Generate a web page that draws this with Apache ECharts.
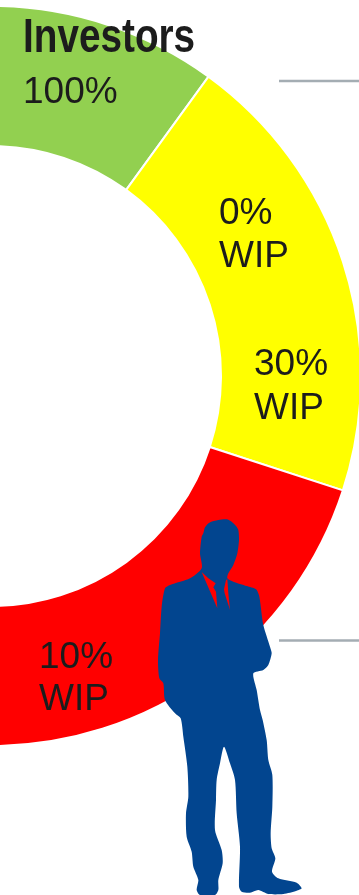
<!DOCTYPE html>
<html>
<head>
<meta charset="utf-8">
<style>html,body{margin:0;padding:0;background:#fff}#c{width:359px;height:895px}</style>
<script src="https://cdn.jsdelivr.net/npm/echarts@6/dist/echarts.min.js"></script>
</head>
<body>
<div id="c"></div>
<script>
// Ring segments, clockwise from the upper left
const categories = ['Investors', 'Operations', 'Delivery'];
const shares = [1, 1, 1];
const segmentColors = ['#92d050', '#ffff00', '#ff0000'];

// Captions printed on the ring: text, left edge, vertical middle
const captions = [
  ['100%', 23, 93],
  ['0%', 219, 214],
  ['WIP', 219, 257],
  ['30%', 254, 365],
  ['WIP', 254, 409],
  ['10%', 39, 658],
  ['WIP', 39, 700]
];
const title = 'Investors';

// Outline of the standing figure, in thirds of a pixel relative to the two anchors below
const upperAnchor = [150, 510];
const lowerAnchor = [150, 700];
const figureUpper = [[160,70],[165,52],[178,38],[205,30],[230,28],[245,35],[258,48],[265,60],[267,90],[262,130],[250,165],[235,190],
  [232,205],[250,215],[290,228],[318,238],[328,260],[340,345],[360,410],[365,430],[355,465],[340,480],[310,490],[320,540],[330,600]];
const figureLower = [[338,60],[350,120],[355,180],[367,225],[367,320],[362,400],[365,445],[376,475],[366,515],[385,535],
  [440,548],[455,565],[440,572],[400,582],[355,582],[325,570],[300,578],[275,575],[267,560],[270,440],[260,340],[255,240],
  [240,190],[222,140],[210,190],[200,240],[198,300],[195,390],[215,450],[218,490],[205,540],[205,570],[195,585],[150,585],
  [140,570],[145,540],[130,500],[125,455],[110,410],[108,340],[115,290],[112,200],[100,110],[92,55],[75,40],[45,0]];
const figureBack = [[40,520],[28,505],[24,450],[30,370],[35,290],[45,235],[60,225],[120,205],[155,175],[150,130],[155,80]];
const collarLeft = [[155,186],[175,205],[197,220],[190,232],[198,245],[202,295]];
const collarRight = [[228,210],[232,208],[235,250],[240,300],[224,250],[222,238]];

const toPx = (pts, a) => pts.map(p => [a[0] + p[0] / 3, a[1] + p[1] / 3]);
const outline = toPx(figureUpper, upperAnchor)
  .concat(toPx(figureLower, lowerAnchor))
  .concat(toPx(figureBack, upperAnchor));

const textColor = '#1c1c1c';
const fontFamily = '"Liberation Sans", Arial, sans-serif';

const graphics = [
  { type: 'line', z: 50, shape: { x1: 279, y1: 81, x2: 359, y2: 81 }, style: { stroke: '#a4adb3', lineWidth: 2.4 } },
  { type: 'line', z: 50, shape: { x1: 279, y1: 640.5, x2: 359, y2: 640.5 }, style: { stroke: '#a4adb3', lineWidth: 2.4 } },
  { type: 'polygon', z: 60, shape: { points: outline, smooth: 0.25 }, style: { fill: '#02458f' } },
  { type: 'polygon', z: 61, shape: { points: toPx(collarLeft, upperAnchor) }, style: { fill: '#ff0000' } },
  { type: 'polygon', z: 61, shape: { points: toPx(collarRight, upperAnchor) }, style: { fill: '#ff0000' } },
  { type: 'text', z: 70, x: 23, y: 38, scaleX: 0.79, style: {
      text: title, fill: textColor, font: 'bold 49px ' + fontFamily, textAlign: 'left', textVerticalAlign: 'middle' } }
].concat(captions.map(c => ({
  type: 'text', z: 70, x: c[1], y: c[2], style: {
    text: c[0], fill: textColor, font: '37px ' + fontFamily, textAlign: 'left', textVerticalAlign: 'middle' }
})));

const chart = echarts.init(document.getElementById('c'), null, { renderer: 'canvas' });
chart.setOption({
  animation: false,
  backgroundColor: '#ffffff',
  series: [{
    type: 'pie',
    center: [-9, 376],
    radius: [230, 370],
    startAngle: 126,
    endAngle: -90,
    clockwise: true,
    silent: true,
    label: { show: false },
    labelLine: { show: false },
    itemStyle: { borderColor: '#ffffff', borderWidth: 2 },
    data: categories.map((name, i) => ({ name, value: shares[i], itemStyle: { color: segmentColors[i] } }))
  }],
  graphic: { elements: graphics }
});
</script>
</body>
</html>
